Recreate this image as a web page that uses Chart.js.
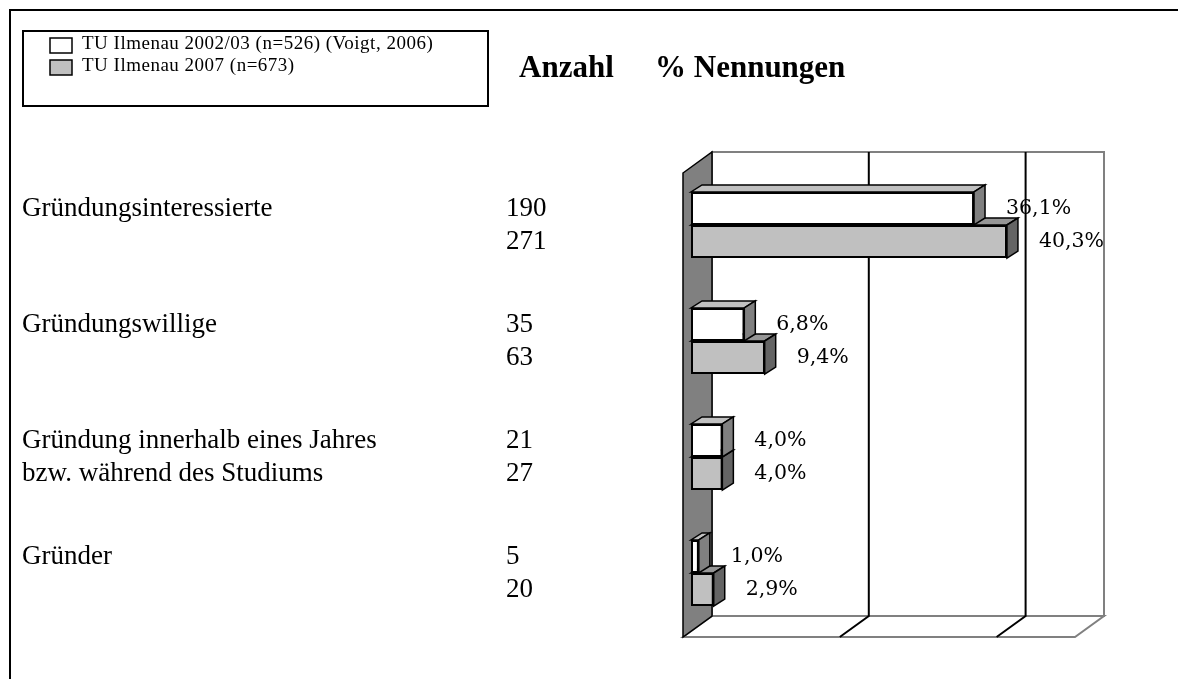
<!DOCTYPE html>
<html>
<head>
<meta charset="utf-8">
<script src="https://cdn.jsdelivr.net/npm/chart.js@4/dist/chart.umd.min.js"></script>
<style>
  html, body { margin: 0; padding: 0; background: #fff; }
  #wrap { position: absolute; left: 0; top: 0; width: 1178px; height: 679px; }
</style>
</head>
<body>
<div id="wrap"><canvas id="chart" width="1178" height="679"></canvas></div>
<script>
// data
const categories = [
  "Gründungsinteressierte",
  "Gründungswillige",
  ["Gründung innerhalb eines Jahres", "bzw. während des Studiums"],
  "Gründer"
];
const seriesNames = ["TU Ilmenau 2002/03 (n=526) (Voigt, 2006)", "TU Ilmenau 2007 (n=673)"];
const count2002 = [190, 35, 21, 5];
const count2007 = [271, 63, 27, 20];
const pct2002 = [36.1, 6.8, 4.0, 1.0];
const pct2007 = [40.3, 9.4, 4.0, 2.9];
const headers = ["Anzahl", "% Nennungen"];

// 3d look
const front = { dx: -8, dy: 6 };    // floor front edge, relative to bar plane
const back = { dx: 21, dy: -15 };   // back wall
const depth = { dx: 11, dy: -7 };   // bar depth
const faceColors = [
  { top: "#c0c0c0", side: "#808080" },
  { top: "#969696", side: "#646464" }
];
const serif = '"Liberation Serif", serif';

function poly(ctx, pts, fill, stroke, lw) {
  ctx.beginPath();
  ctx.moveTo(pts[0][0], pts[0][1]);
  for (let i = 1; i < pts.length; i++) ctx.lineTo(pts[i][0], pts[i][1]);
  ctx.closePath();
  if (fill) { ctx.fillStyle = fill; ctx.fill(); }
  if (stroke) { ctx.strokeStyle = stroke; ctx.lineWidth = lw || 1; ctx.stroke(); }
}

const decor = {
  id: "decor",
  beforeDatasetsDraw(chart) {
    const ctx = chart.ctx;
    const xs = chart.scales.x;
    const { top, bottom } = chart.chartArea;
    const x0 = xs.getPixelForValue(0);
    const xMax = xs.getPixelForValue(xs.max);
    ctx.save();

    // back wall
    poly(ctx, [[x0 + back.dx, top + back.dy], [xMax + back.dx, top + back.dy],
      [xMax + back.dx, bottom + back.dy], [x0 + back.dx, bottom + back.dy]], "#fff", "#808080", 2);
    // floor
    poly(ctx, [[x0 + front.dx, bottom + front.dy], [x0 + back.dx, bottom + back.dy],
      [xMax + back.dx, bottom + back.dy], [xMax + front.dx, bottom + front.dy]], "#fff", "#808080", 2);

    // gridlines on wall and floor
    xs.ticks.forEach(t => {
      if (t.value <= 0 || t.value >= xs.max) return;
      const gx = xs.getPixelForValue(t.value);
      ctx.beginPath();
      ctx.moveTo(gx + back.dx, top + back.dy);
      ctx.lineTo(gx + back.dx, bottom + back.dy);
      ctx.lineTo(gx + front.dx, bottom + front.dy);
      ctx.strokeStyle = "#000";
      ctx.lineWidth = 2;
      ctx.stroke();
    });

    // left wall
    poly(ctx, [[x0 + front.dx, top + front.dy], [x0 + back.dx, top + back.dy],
      [x0 + back.dx, bottom + back.dy], [x0 + front.dx, bottom + front.dy]], "#808080", "#000", 1.5);

    // bar top and side faces, grey series first
    for (let d = chart.data.datasets.length - 1; d >= 0; d--) {
      chart.getDatasetMeta(d).data.forEach(el => {
        const xa = el.base, xb = el.x;
        const yt = el.y - el.height / 2, yb = el.y + el.height / 2;
        poly(ctx, [[xa, yt], [xb, yt], [xb + depth.dx, yt + depth.dy], [xa + depth.dx, yt + depth.dy]],
          faceColors[d].top, "#000", 1.5);
        poly(ctx, [[xb, yt], [xb + depth.dx, yt + depth.dy], [xb + depth.dx, yb + depth.dy], [xb, yb]],
          faceColors[d].side, "#000", 1.5);
      });
    }
    ctx.restore();
  },
  afterDatasetsDraw(chart) {
    const ctx = chart.ctx;
    const m0 = chart.getDatasetMeta(0).data;
    const m1 = chart.getDatasetMeta(1).data;
    ctx.save();

    // outer frame
    ctx.strokeStyle = "#000";
    ctx.lineWidth = 2;
    ctx.beginPath();
    ctx.moveTo(10, 679);
    ctx.lineTo(10, 10);
    ctx.lineTo(1178, 10);
    ctx.stroke();

    // legend box
    ctx.strokeRect(23, 31, 465, 75);
    const sw = [[50, 38], [50, 60]];
    chart.data.datasets.forEach((ds, i) => {
      ctx.fillStyle = ds.backgroundColor;
      ctx.fillRect(sw[i][0], sw[i][1], 22, 15);
      ctx.lineWidth = 1.5;
      ctx.strokeRect(sw[i][0], sw[i][1], 22, 15);
      ctx.fillStyle = "#000";
      ctx.font = "19px " + serif;
      ctx.letterSpacing = "0.5px";
      ctx.textBaseline = "middle";
      ctx.textAlign = "left";
      ctx.fillText(ds.label, 82, sw[i][1] + 6);
      ctx.letterSpacing = "0px";
    });

    // headers
    ctx.font = "bold 31px " + serif;
    ctx.fillText(headers[0], 519, 69);
    ctx.fillText(headers[1], 655, 69);

    // category labels and counts
    ctx.font = "27px " + serif;
    categories.forEach((c, i) => {
      const lines = Array.isArray(c) ? c : [c];
      ctx.fillText(lines[0], 22, m0[i].y);
      if (lines[1]) ctx.fillText(lines[1], 22, m1[i].y);
      ctx.fillText(String(count2002[i]), 506, m0[i].y);
      ctx.fillText(String(count2007[i]), 506, m1[i].y);
    });

    // value labels
    ctx.font = '20.5px "DejaVu Serif", serif';
    [m0, m1].forEach((meta, d) => {
      const vals = d === 0 ? pct2002 : pct2007;
      meta.forEach((el, i) => {
        ctx.fillText(vals[i].toFixed(1).replace(".", ",") + "%", el.x + 32, el.y);
      });
    });
    ctx.restore();
  }
};

new Chart(document.getElementById("chart"), {
  type: "bar",
  data: {
    labels: categories,
    datasets: [
      { label: seriesNames[0], data: pct2002, backgroundColor: "#ffffff" },
      { label: seriesNames[1], data: pct2007, backgroundColor: "#c0c0c0" }
    ]
  },
  options: {
    indexAxis: "y",
    responsive: false,
    animation: false,
    layout: { padding: { left: 691, right: 95, top: 167, bottom: 48 } },
    datasets: {
      bar: {
        borderColor: "#000",
        borderWidth: 2,
        borderSkipped: false,
        categoryPercentage: 0.57,
        barPercentage: 1
      }
    },
    scales: {
      x: { display: false, min: 0, max: 50, ticks: { stepSize: 20 } },
      y: { display: false }
    },
    plugins: {
      legend: { display: false },
      tooltip: { enabled: false }
    }
  },
  plugins: [decor]
});
</script>
</body>
</html>
